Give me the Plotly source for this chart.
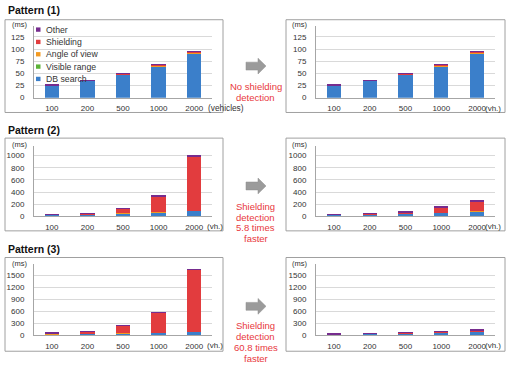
import plotly.graph_objects as go

W, H = 510, 373

categories = ["100", "200", "500", "1000", "2000"]
series_names = ["DB search", "Visible range", "Angle of view", "Shielding", "Other"]
series_colors = ["#3b7fca", "#5cb338", "#f39a22", "#e23c3e", "#762c8e"]
legend_order = ["Other", "Shielding", "Angle of view", "Visible range", "DB search"]

# Pattern (1) - before / after (no shielding detection -> identical)
p1_db = [25, 35, 49, 64, 91]
p1_visible = [0, 0, 0, 0, 0.6]
p1_angle = [0, 0, 0, 3.5, 1.6]
p1_shield = [0.3, 0.3, 1.2, 0.8, 1.6]
p1_other = [1.5, 1.5, 0.5, 0.3, 1.3]

# Pattern (2)
p2a_db = [25, 35, 50, 62, 88]
p2a_visible = [0, 0, 0, 0, 0]
p2a_angle = [1, 1, 2, 3, 5]
p2a_shield = [8, 15, 80, 255, 892]
p2a_other = [3, 3, 5, 25, 30]

p2b_db = [25, 33, 42, 62, 85]
p2b_visible = [0, 0, 0, 0, 0]
p2b_angle = [0, 0, 1, 1, 2]
p2b_shield = [2, 6, 27, 75, 145]
p2b_other = [3, 3, 5, 33, 42]

# Pattern (3)
p3a_db = [25, 35, 50, 65, 90]
p3a_visible = [0, 0, 0, 0, 0]
p3a_angle = [1, 1, 2, 3, 4]
p3a_shield = [24, 55, 183, 492, 1540]
p3a_other = [2, 2, 3, 5, 8]

p3b_db = [23, 30, 45, 68, 85]
p3b_visible = [0, 0, 0, 0, 0]
p3b_angle = [0, 0, 1, 1, 1]
p3b_shield = [2, 3, 8, 14, 38]
p3b_other = [3, 3, 4, 5, 6]

row_ticks = [[0, 25, 50, 75, 100, 125],
             [0, 200, 400, 600, 800, 1000],
             [0, 300, 600, 900, 1200, 1500]]
row_ranges = [148, 1157, 1770]
titles = ["Pattern (1)", "Pattern (2)", "Pattern (3)"]
notes = [["No shielding", "detection"],
         ["Shielding", "detection", "5.8 times", "faster"],
         ["Shielding", "detection", "60.8 times", "faster"]]

panels = [
    (0, 0, [p1_db, p1_visible, p1_angle, p1_shield, p1_other]),
    (0, 1, [p1_db, p1_visible, p1_angle, p1_shield, p1_other]),
    (1, 0, [p2a_db, p2a_visible, p2a_angle, p2a_shield, p2a_other]),
    (1, 1, [p2b_db, p2b_visible, p2b_angle, p2b_shield, p2b_other]),
    (2, 0, [p3a_db, p3a_visible, p3a_angle, p3a_shield, p3a_other]),
    (2, 1, [p3b_db, p3b_visible, p3b_angle, p3b_shield, p3b_other]),
]

FONT = "Liberation Sans, Arial, sans-serif"
TXT = "#333333"
RED = "#e8383d"
GRID = "#d9d9d9"
AXIS = "#a6a6a6"


def X(px):
    return px / W


def Y(py):
    return 1 - py / H


# geometry (pixels)
col_x = [(34, 212), (316, 495)]
row_y = [(99, 26), (219.3, 148), (340, 268)]  # (zero line, axis top)
box_x = [(5, 223), (286, 505)]
box_y = [(20, 114), (140, 234), (261, 356)]
title_y = [10, 132, 252]
ms_y = [25, 146, 267]
note_y = [[88, 99], [209, 220, 231, 242], [330, 341, 352, 363]]
arrow_y = [67, 188.5, 310.5]

fig = go.Figure()
layout = dict(
    width=W, height=H, margin=dict(l=0, r=0, t=0, b=0),
    paper_bgcolor="white", plot_bgcolor="rgba(0,0,0,0)",
    barmode="stack", showlegend=False, bargap=0.6,
    font=dict(family=FONT, color=TXT, size=8),
)

shapes = []
annotations = []

for i, (r, c, vals) in enumerate(panels):
    n = i + 1
    xa = "x" if n == 1 else f"x{n}"
    ya = "y" if n == 1 else f"y{n}"
    for name, color, v in zip(series_names, series_colors, vals):
        fig.add_trace(go.Bar(x=categories, y=v, name=name, marker=dict(color=color, line=dict(width=0)),
                             xaxis=xa, yaxis=ya, width=0.4))
    layout["xaxis" if n == 1 else f"xaxis{n}"] = dict(
        domain=[X(col_x[c][0]), X(col_x[c][1])], anchor=ya, type="category",
        showline=True, linecolor=AXIS, linewidth=1, showgrid=False, ticks="",
        tickfont=dict(size=8, color=TXT), ticklabelstandoff=3, fixedrange=True)
    layout["yaxis" if n == 1 else f"yaxis{n}"] = dict(
        domain=[Y(row_y[r][0]), Y(row_y[r][1])], anchor=xa, range=[0, row_ranges[r]],
        tickvals=row_ticks[r], showline=True, linecolor=AXIS, linewidth=1,
        showgrid=True, gridcolor=GRID, gridwidth=1, zeroline=False, ticks="",
        tickfont=dict(size=8, color=TXT), ticklabelstandoff=7, fixedrange=True)
    # box around each chart
    shapes.append(dict(type="rect", xref="paper", yref="paper",
                       x0=X(box_x[c][0]), x1=X(box_x[c][1]), y0=Y(box_y[r][1]), y1=Y(box_y[r][0]),
                       line=dict(color="#a0a0a0", width=1), layer="below"))
    # (ms) label
    annotations.append(dict(text="(ms)", xref="paper", yref="paper",
                            x=X(19 if c == 0 else 299), y=Y(ms_y[r]), showarrow=False,
                            font=dict(size=7.5, color=TXT), xanchor="center", yanchor="middle"))
    # unit label after last category
    if r == 0 and c == 0:
        annotations.append(dict(text="(vehicles)", xref="paper", yref="paper", x=X(206), y=Y(109.5),
                                showarrow=False, font=dict(size=8.3, color=TXT), xanchor="left", yanchor="middle"))
    else:
        ux = 204.5 if c == 0 else 483
        uy = row_y[r][0] + 10.5
        annotations.append(dict(text="(vh.)", xref="paper", yref="paper", x=X(ux), y=Y(uy),
                                showarrow=False, font=dict(size=8, color=TXT), xanchor="left", yanchor="middle"))

for r in range(3):
    annotations.append(dict(text=f"<b>{titles[r]}</b>", xref="paper", yref="paper", x=X(6), y=Y(title_y[r]),
                            showarrow=False, font=dict(size=10.5, color="#111111"), xanchor="left", yanchor="middle"))
    for line, ly in zip(notes[r], note_y[r]):
        annotations.append(dict(text=line, xref="paper", yref="paper", x=X(255.5), y=Y(ly),
                                showarrow=False, font=dict(size=9.5, color=RED), xanchor="center", yanchor="middle"))
    cy = arrow_y[r]
    pts = [(246, cy - 4), (258, cy - 4), (258, cy - 8), (266, cy), (258, cy + 8), (258, cy + 4), (246, cy + 4)]
    path = "M " + " L ".join(f"{X(px):.5f},{Y(py):.5f}" for px, py in pts) + " Z"
    shapes.append(dict(type="path", xref="paper", yref="paper", path=path,
                       fillcolor="#9b9b9b", line=dict(color="#8c8c8c", width=0.5)))

# legend (inside Pattern (1) left chart)
legend_y = [30, 42.5, 55, 67.5, 80]
for name, ly in zip(legend_order, legend_y):
    color = series_colors[series_names.index(name)]
    shapes.append(dict(type="rect", xref="paper", yref="paper", x0=X(36), x1=X(40.5),
                       y0=Y(ly + 2.2), y1=Y(ly - 2.2), fillcolor=color, line=dict(width=0)))
    annotations.append(dict(text=name, xref="paper", yref="paper", x=X(43.5), y=Y(ly),
                            showarrow=False, font=dict(size=8.7, color=TXT), xanchor="left", yanchor="middle"))

layout["shapes"] = shapes
layout["annotations"] = annotations
fig.update_layout(**layout)
fig.write_html("out.html", config={"displayModeBar": False},
               post_script="document.body.style.margin='0';document.body.style.overflow='hidden';")
